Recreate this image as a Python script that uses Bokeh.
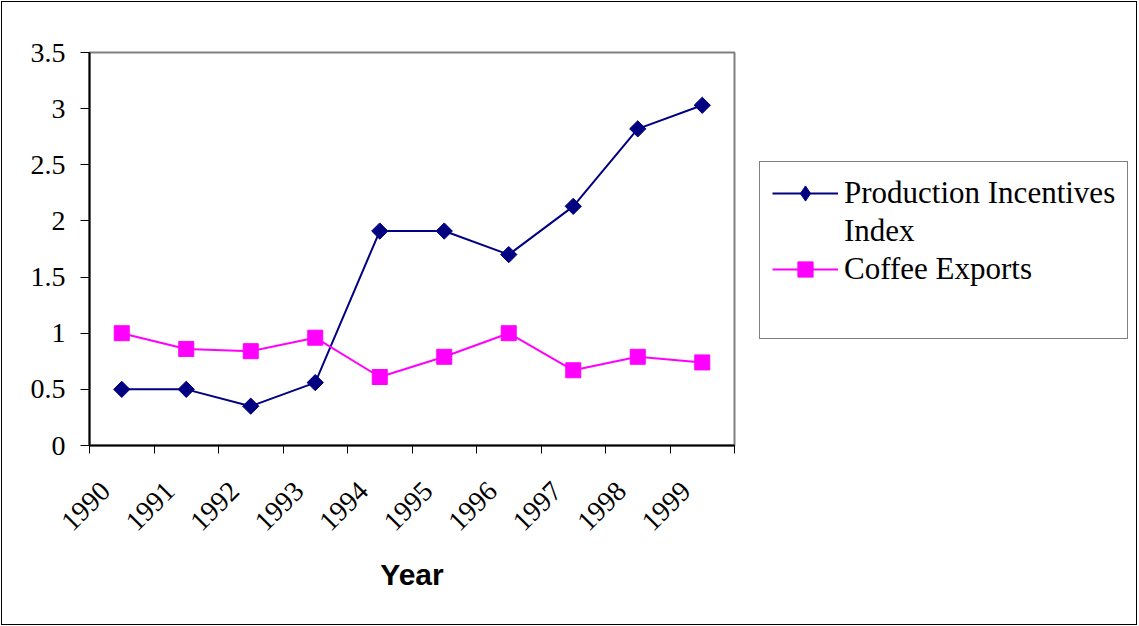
import math
from bokeh.plotting import figure
from bokeh.layouts import row
from bokeh.models import Range1d, FixedTicker, Legend, LegendItem
from bokeh.embed import file_html
from bokeh.resources import INLINE

years = ["1990", "1991", "1992", "1993", "1994", "1995", "1996", "1997", "1998", "1999"]
production_incentives = [0.50, 0.50, 0.35, 0.56, 1.91, 1.91, 1.70, 2.13, 2.82, 3.03]
coffee_exports = [1.00, 0.86, 0.84, 0.96, 0.61, 0.79, 1.00, 0.67, 0.79, 0.74]
y_ticks = [0, 0.5, 1, 1.5, 2, 2.5, 3, 3.5]

n = len(years)
x_centers = [i + 0.5 for i in range(n)]
x_bounds = list(range(n + 1))
label_pos = [c - 0.25 for c in x_centers]

navy = "#000080"
magenta = "#FF00FF"

# ---------------- main chart ----------------
p = figure(width=745, height=622, output_backend="svg", toolbar_location=None,
           x_range=Range1d(0, n), y_range=Range1d(0, 3.5),
           min_border_left=87, min_border_right=13, min_border_top=50, min_border_bottom=179)
p.background_fill_color = "white"
p.border_fill_color = "white"
p.outline_line_color = "#808080"
p.outline_line_width = 2
p.xgrid.visible = False
p.ygrid.visible = False

p.line(x_centers, production_incentives, line_color=navy, line_width=2)
p.scatter(x_centers, production_incentives, marker="square", angle=math.pi / 4,
          size=11.5, fill_color=navy, line_color=navy)
p.line(x_centers, coffee_exports, line_color=magenta, line_width=2)
p.scatter(x_centers, coffee_exports, marker="square", size=15,
          fill_color=magenta, line_color=magenta)

ya = p.yaxis[0]
ya.ticker = FixedTicker(ticks=y_ticks)
ya.major_label_overrides = {t: f"{t:g}" for t in y_ticks}
ya.minor_tick_line_color = None
ya.major_tick_in = 0
ya.major_tick_out = 9
ya.major_tick_line_color = "black"
ya.axis_line_color = "black"
ya.axis_line_width = 2
ya.major_label_text_font = "Liberation Serif"
ya.major_label_text_font_size = "28px"
ya.major_label_text_color = "black"
ya.major_label_standoff = 15

xa = p.xaxis[0]
xa.ticker = FixedTicker(ticks=label_pos, minor_ticks=x_bounds)
xa.major_label_overrides = {c: y for c, y in zip(label_pos, years)}
xa.major_tick_line_color = None
xa.major_tick_in = 0
xa.major_tick_out = 0
xa.minor_tick_in = 0
xa.minor_tick_out = 8
xa.minor_tick_line_color = "black"
xa.axis_line_color = "black"
xa.axis_line_width = 2
xa.major_label_orientation = math.pi / 4
xa.major_label_text_font = "Liberation Serif"
xa.major_label_text_font_size = "28px"
xa.major_label_text_color = "black"
xa.major_label_standoff = 33
xa.axis_label = "Year"
xa.axis_label_text_font = "Liberation Sans"
xa.axis_label_text_font_style = "bold"
xa.axis_label_text_font_size = "30px"
xa.axis_label_text_color = "black"
xa.axis_label_standoff = 16

# ---------------- legend panel ----------------
# its frame is aligned with the main chart's frame by the row layout;
# the series are drawn off-range here so only their legend glyphs show
q = figure(width=389, height=622, output_backend="svg", toolbar_location=None,
           x_range=Range1d(-2, -1), y_range=Range1d(0, 3.5),
           x_axis_location=None, y_axis_location=None,
           min_border=0)
q.outline_line_color = None
q.xgrid.visible = False
q.ygrid.visible = False
q.background_fill_color = "white"
q.border_fill_color = "white"

ql1 = q.line(x_centers, production_incentives, line_color=navy, line_width=2)
qm1 = q.scatter(x_centers, production_incentives, marker="diamond", size=16,
                fill_color=navy, line_color=navy)
ql2 = q.line(x_centers, coffee_exports, line_color=magenta, line_width=2)
qm2 = q.scatter(x_centers, coffee_exports, marker="square", size=16,
                fill_color=magenta, line_color=magenta)
blank = q.line(x_centers, coffee_exports, line_alpha=0)

legend = Legend(items=[
    LegendItem(label="Production Incentives", renderers=[ql1, qm1]),
    LegendItem(label="Index", renderers=[blank]),
    LegendItem(label="Coffee Exports", renderers=[ql2, qm2]),
    LegendItem(label=" ", renderers=[blank]),
], location=(12, 106))
legend.margin = 0
legend.border_line_color = "black"
legend.border_line_width = 1
legend.background_fill_color = "white"
legend.padding = 12
legend.glyph_width = 66
legend.glyph_height = 38
legend.label_standoff = 6
legend.label_text_font = "Liberation Serif"
legend.label_text_font_size = "31px"
legend.label_text_color = "black"
legend.spacing = 0
q.add_layout(legend, "center")

layout = row(p, q)
layout.styles = {"margin": "1px", "border": "1px solid black"}

open("out.html", "w").write(file_html(layout, INLINE))
